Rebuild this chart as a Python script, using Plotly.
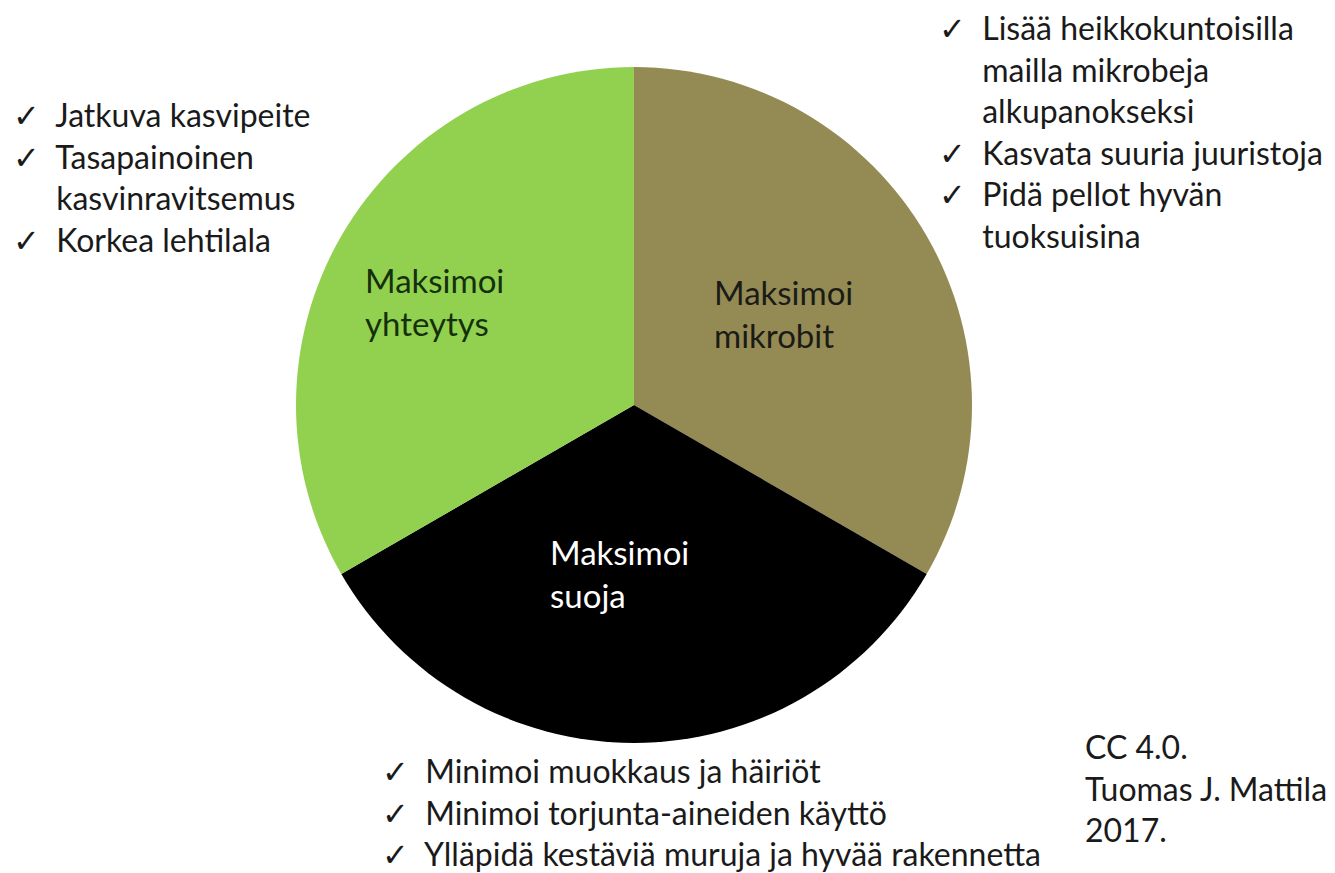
import plotly.graph_objects as go

# page is photographed at 1335x873, the html body has an 8px default margin
PAGE_W, PAGE_H = 1335, 873
OFF = 8
W, H = PAGE_W - OFF, PAGE_H - OFF

# ---------------- data ----------------
segments = ["Maksimoi mikrobit", "Maksimoi suoja", "Maksimoi yhteytys"]
shares = [1, 1, 1]

yhteytys_items = [
    ["Jatkuva kasvipeite"],
    ["Tasapainoinen", "kasvinravitsemus"],
    ["Korkea lehtilala"],
]
mikrobit_items = [
    ["Lisää heikkokuntoisilla", "mailla mikrobeja", "alkupanokseksi"],
    ["Kasvata suuria juuristoja"],
    ["Pidä pellot hyvän", "tuoksuisina"],
]
suoja_items = [
    ["Minimoi muokkaus ja häiriöt"],
    ["Minimoi torjunta-aineiden käyttö"],
    ["Ylläpidä kestäviä muruja ja hyvää rakennetta"],
]
credit_lines = ["CC 4.0.", "Tuomas J. Mattila", "2017."]

# ---------------- style ----------------
slice_colors = ["#948A54", "#000000", "#92D050"]
label_colors = ["#1b1b16", "#ffffff", "#15300c"]
FONT = "Lato, 'DejaVu Sans', sans-serif"
FS = 32
ASC = 32  # approx distance from annotation top to first baseline (px)

# pie geometry in page pixels
CX, CY, R = 634, 405, 338


def px(x):
    return (x - OFF) / W


def py(y):
    return 1 - (y - OFF) / H


fig = go.Figure()
fig.add_trace(go.Pie(
    labels=segments,
    values=shares,
    sort=False,
    direction="clockwise",
    rotation=0,
    marker=dict(colors=slice_colors, line=dict(width=0)),
    textinfo="none",
    hoverinfo="label",
    showlegend=False,
    domain=dict(x=[px(CX - R), px(CX + R)], y=[py(CY + R), py(CY - R)]),
))


def add_text(text, x_px, baseline_px, color="#1a1a1a", size=FS):
    fig.add_annotation(
        text=text, x=px(x_px), y=py(baseline_px - ASC * size / FS),
        xref="paper", yref="paper", xanchor="left", yanchor="top",
        align="left", showarrow=False, borderpad=0,
        font=dict(family=FONT, size=size, color=color),
    )


def checklist(items):
    lines = []
    for item in items:
        for i, line in enumerate(item):
            mark = "✓" if i == 0 else "<span style='color:#ffffff'>✓</span>"
            lines.append(mark + "\u00a0\u00a0" + line)
    return "<br>".join(lines)


# slice labels
label_pos = [(713, 304), (549, 564), (364, 292)]
for name, (lx, lb), col in zip(segments, label_pos, label_colors):
    add_text(name.replace(" ", "<br>"), lx, lb, col, 33)

# checklists
add_text(checklist(yhteytys_items), 12, 126)
add_text(checklist(mikrobit_items), 938, 39)
add_text(checklist(suoja_items), 381, 782)

# credit
add_text("<br>".join(credit_lines), 1084, 758)

fig.update_layout(
    width=W, height=H,
    margin=dict(l=0, r=0, t=0, b=0),
    paper_bgcolor="#ffffff",
    plot_bgcolor="#ffffff",
)

fig.write_html("out.html")
